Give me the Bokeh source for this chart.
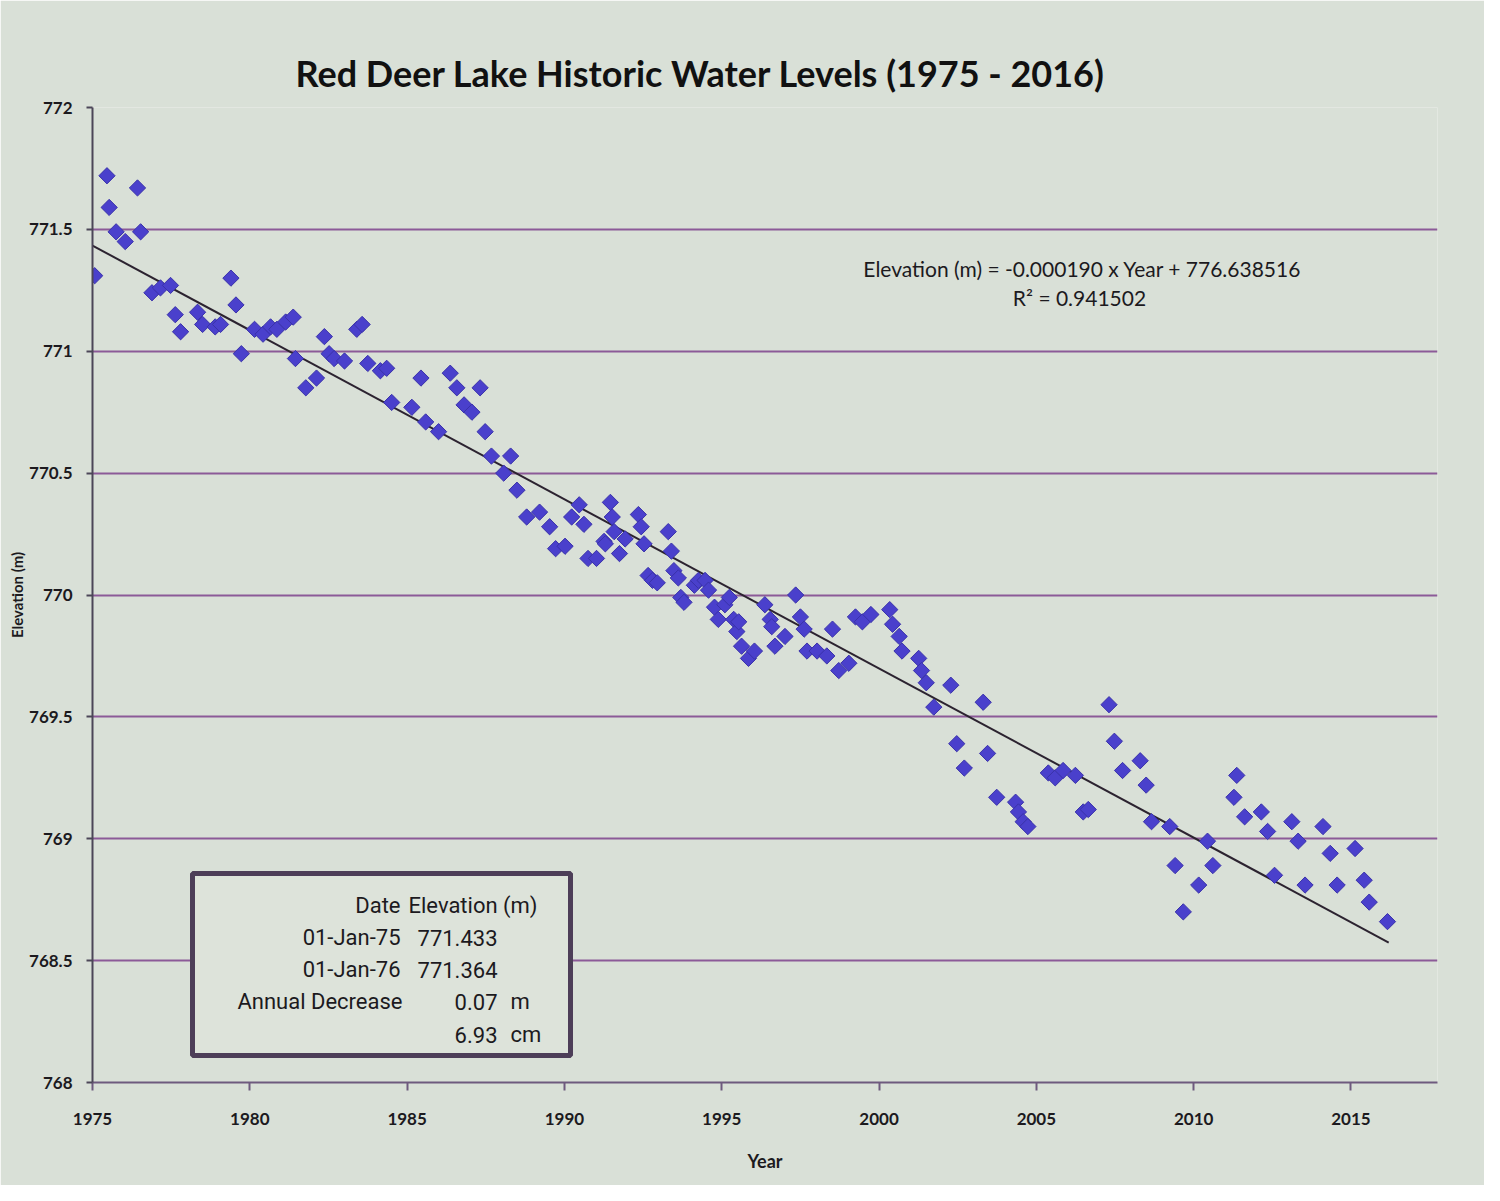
import numpy as np
from bokeh.plotting import figure
from bokeh.models import FixedTicker, Label, BoxAnnotation, Range1d, CustomJSTickFormatter
from bokeh.embed import file_html
from bokeh.resources import INLINE

# ---------------- data ----------------
years = [
    1975.07, 1975.46, 1975.53, 1975.75, 1976.04, 1976.43, 1976.53, 1976.89, 1977.16, 1977.48,
    1977.63, 1977.80, 1978.34, 1978.50, 1978.90, 1979.07, 1979.40, 1979.56, 1979.73, 1980.15,
    1980.42, 1980.66, 1980.86, 1981.14, 1981.38, 1981.45, 1981.78, 1982.12, 1982.37, 1982.52,
    1982.68, 1983.01, 1983.40, 1983.57, 1983.75, 1984.15, 1984.35, 1984.51, 1985.15, 1985.44,
    1985.59, 1986.00, 1986.37, 1986.58, 1986.81, 1987.06, 1987.32, 1987.48, 1987.68, 1988.07,
    1988.29, 1988.49, 1988.80, 1989.21, 1989.53, 1989.72, 1990.02, 1990.23, 1990.47, 1990.62,
    1990.75, 1991.02, 1991.26, 1991.30, 1991.46, 1991.52, 1991.58, 1991.75, 1991.93, 1992.35,
    1992.44, 1992.53, 1992.66, 1992.80, 1992.95, 1993.30, 1993.40, 1993.48, 1993.62, 1993.70,
    1993.80, 1994.13, 1994.26, 1994.47, 1994.58, 1994.77, 1994.89, 1995.10, 1995.24, 1995.38,
    1995.48, 1995.54, 1995.63, 1995.85, 1996.04, 1996.37, 1996.54, 1996.59, 1996.69, 1997.01,
    1997.35, 1997.50, 1997.62, 1997.71, 1998.03, 1998.34, 1998.52, 1998.72, 1999.04, 1999.25,
    1999.47, 1999.74, 2000.34, 2000.43, 2000.64, 2000.73, 2001.26, 2001.35, 2001.50, 2001.74,
    2002.28, 2002.47, 2002.71, 2003.31, 2003.45, 2003.74, 2004.34, 2004.43, 2004.58, 2004.73,
    2005.38, 2005.60, 2005.85, 2006.24, 2006.49, 2006.65, 2007.31, 2007.48, 2007.74, 2008.30,
    2008.49, 2008.66, 2009.24, 2009.41, 2009.67, 2010.16, 2010.44, 2010.61, 2011.28, 2011.37,
    2011.62, 2012.15, 2012.35, 2012.57, 2013.12, 2013.32, 2013.54, 2014.11, 2014.34, 2014.56,
    2015.13, 2015.42, 2015.58, 2016.16,
]
elevation_m = [
    771.31, 771.72, 771.59, 771.49, 771.45, 771.67, 771.49, 771.24, 771.26, 771.27,
    771.15, 771.08, 771.16, 771.11, 771.10, 771.11, 771.30, 771.19, 770.99, 771.09,
    771.07, 771.10, 771.09, 771.12, 771.14, 770.97, 770.85, 770.89, 771.06, 770.99,
    770.97, 770.96, 771.09, 771.11, 770.95, 770.92, 770.93, 770.79, 770.77, 770.89,
    770.71, 770.67, 770.91, 770.85, 770.78, 770.75, 770.85, 770.67, 770.57, 770.50,
    770.57, 770.43, 770.32, 770.34, 770.28, 770.19, 770.20, 770.32, 770.37, 770.29,
    770.15, 770.15, 770.22, 770.21, 770.38, 770.32, 770.26, 770.17, 770.23, 770.33,
    770.28, 770.21, 770.08, 770.06, 770.05, 770.26, 770.18, 770.10, 770.07, 769.99,
    769.97, 770.04, 770.06, 770.06, 770.02, 769.95, 769.90, 769.96, 769.99, 769.90,
    769.85, 769.89, 769.79, 769.74, 769.77, 769.96, 769.90, 769.87, 769.79, 769.83,
    770.00, 769.91, 769.86, 769.77, 769.77, 769.75, 769.86, 769.69, 769.72, 769.91,
    769.89, 769.92, 769.94, 769.88, 769.83, 769.77, 769.74, 769.69, 769.64, 769.54,
    769.63, 769.39, 769.29, 769.56, 769.35, 769.17, 769.15, 769.11, 769.07, 769.05,
    769.27, 769.25, 769.28, 769.26, 769.11, 769.12, 769.55, 769.40, 769.28, 769.32,
    769.22, 769.07, 769.05, 768.89, 768.70, 768.81, 768.99, 768.89, 769.17, 769.26,
    769.09, 769.11, 769.03, 768.85, 769.07, 768.99, 768.81, 769.05, 768.94, 768.81,
    768.96, 768.83, 768.74, 768.66,
]

x_ticks = [1975, 1980, 1985, 1990, 1995, 2000, 2005, 2010, 2015]
y_ticks = [768.0, 768.5, 769.0, 769.5, 770.0, 770.5, 771.0, 771.5, 772.0]

title_text = "Red Deer Lake Historic Water Levels (1975 - 2016)"
x_title = "Year"
y_title = "Elevation (m)"
equation_text = "Elevation (m) = -0.000190 x Year + 776.638516"
r2_text = "R\u00b2 = 0.941502"

# trendline as printed on the chart (x = Excel date serial)
trend_slope_per_day = -0.000190
trend_intercept = 776.638516
serial_01jan1975 = 27395
trend_years = [1975.0, 2016.2]

table_header = ["Date", "Elevation (m)"]
table_dates = ["01-Jan-75", "01-Jan-76"]
table_elevations = ["771.433", "771.364"]
annual_label = "Annual Decrease"
annual_values = ["0.07", "6.93"]
annual_units = ["m", "cm"]

# ---------------- layout / style ----------------
W, H = 1484, 1185
FL, FR, FT, FB = 92, 1437, 107, 1082          # frame edges in canvas px
XMIN, XMAX = 1975.0, 2017.75
YMIN, YMAX = 768.0, 772.0
BG = "#d9e0d7"
TXT = "#1c1a1e"
GRID = "#8c5a98"
MARK = "#4a40cc"


def dx(page_x):
    return XMIN + (page_x - 8 - FL) / (FR - FL) * (XMAX - XMIN)


def dy(page_y):
    return YMAX - (page_y - 8 - FT) / (FB - FT) * (YMAX - YMIN)


p = figure(width=W, height=H, x_range=Range1d(XMIN, XMAX), y_range=Range1d(YMIN, YMAX),
           output_backend="svg", toolbar_location=None,
           min_border_left=FL, min_border_right=W - FR, min_border_top=FT, min_border_bottom=H - FB,
           background_fill_color=BG, border_fill_color=BG, outline_line_color=None)

p.title.text = title_text
p.title.text_font = "Lato"
p.title.text_font_size = "36px"
p.title.text_font_style = "bold"
p.title.text_color = "#111111"
p.title.align = "left"
p.title.offset = 203
p.title.standoff = 26

# axes
for ax in (p.xaxis[0], p.yaxis[0]):
    ax.major_label_text_font = "Lato"
    ax.major_label_text_font_style = "bold"
    ax.major_label_text_font_size = "17px"
    ax.major_label_text_color = TXT
    ax.axis_label_text_font = "Lato"
    ax.axis_label_text_font_style = "bold"
    ax.axis_label_text_color = TXT
    ax.minor_tick_line_color = None
    ax.major_tick_in = 0
    ax.major_tick_line_width = 2

p.xaxis.ticker = FixedTicker(ticks=x_ticks)
p.xaxis.axis_label = x_title
p.xaxis.axis_label_text_font_size = "18px"
p.xaxis.major_tick_out = 8
p.xaxis.major_label_standoff = 22
p.xaxis.axis_label_standoff = 22
p.xaxis.axis_line_color = "#6e5a7e"
p.xaxis.axis_line_width = 2
p.xaxis.major_tick_line_color = "#6e5a7e"

p.yaxis.ticker = FixedTicker(ticks=y_ticks)
p.yaxis.formatter = CustomJSTickFormatter(code="return String(tick)")
p.yaxis.axis_label = y_title
p.yaxis.axis_label_text_font_size = "15px"
p.yaxis.major_tick_out = 6
p.yaxis.major_label_standoff = 14
p.yaxis.axis_label_standoff = 0
p.yaxis.axis_line_color = "#4c4658"
p.yaxis.axis_line_width = 2
p.yaxis.major_tick_line_color = "#4c4658"

p.xgrid.visible = False
p.ygrid.ticker = FixedTicker(ticks=y_ticks)
p.ygrid.grid_line_color = GRID
p.ygrid.grid_line_width = 2

# trendline
trend_serial = [serial_01jan1975 + (y - 1975.0) * 365.25 for y in trend_years]
trend_elev = [trend_intercept + trend_slope_per_day * s for s in trend_serial]
p.line(trend_years, trend_elev, line_color="#2c2330", line_width=2)

# data points (diamonds)
p.scatter(years, elevation_m, marker="square", angle=np.pi / 4, size=11.5,
          fill_color=MARK, line_color="#3a32aa", line_width=1)

# equation
p.add_layout(Label(x=dx(1090), y=771.34, text=equation_text, text_align="center",
                   text_baseline="middle", text_font="Lato", text_font_size="21px",
                   text_color=TXT))
p.add_layout(Label(x=dx(1087), y=771.22, text=r2_text, text_align="center",
                   text_baseline="middle", text_font="Lato", text_font_size="21px",
                   text_color=TXT))

# table box
p.add_layout(BoxAnnotation(left=dx(200), right=dx(578), top=dy(881), bottom=dy(1063),
                           fill_color="#dde3da", fill_alpha=1.0,
                           line_color="#4d3e58", line_alpha=1.0, line_width=5))


def tlabel(px, py, text, align):
    p.add_layout(Label(x=dx(px), y=dy(py), text=text, text_align=align,
                       text_baseline="middle", text_font="Roboto", text_font_size="22px",
                       text_color=TXT))


tlabel(408, 913, table_header[0], "right")
tlabel(416, 913, table_header[1], "left")
for i, (d, e) in enumerate(zip(table_dates, table_elevations)):
    yy = 945 + 32 * i
    tlabel(408, yy, d, "right")
    tlabel(505, yy, e, "right")
tlabel(410, 1009, annual_label, "right")
for i, (v, u) in enumerate(zip(annual_values, annual_units)):
    yy = 1009 + 33 * i
    tlabel(505, yy, v, "right")
    tlabel(518, yy, u, "left")

open("out.html", "w").write(file_html(p, INLINE))
